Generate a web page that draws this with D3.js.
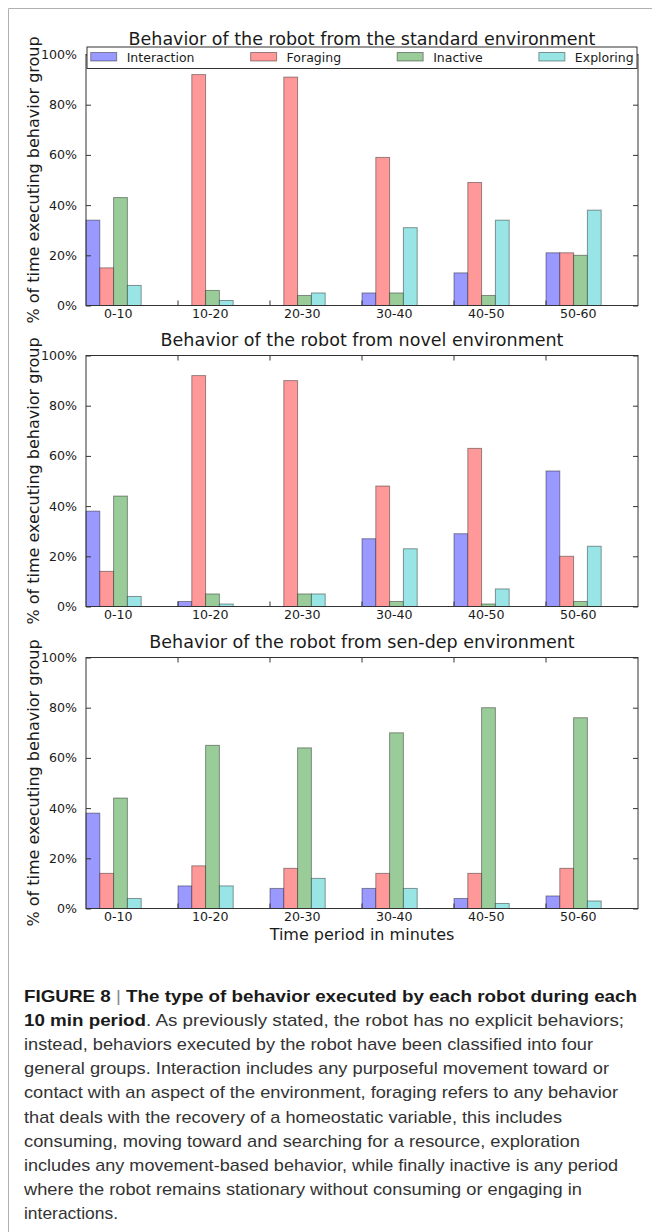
<!DOCTYPE html>
<html>
<head>
<meta charset="utf-8">
<script src="https://cdn.jsdelivr.net/npm/d3@7"></script>
<style>
  html, body { margin: 0; padding: 0; background: #fff; }
  svg { display: block; }
</style>
</head>
<body>
<svg id="chart" width="652" height="1232"></svg>
<script>
// ---------- data ----------
const categories = ["0-10", "10-20", "20-30", "30-40", "40-50", "50-60"];
const seriesNames = ["Interaction", "Foraging", "Inactive", "Exploring"];
const panelTitles = [
  "Behavior of the robot from the standard environment",
  "Behavior of the robot from novel environment",
  "Behavior of the robot from sen-dep environment"
];
const yTickValues = [0, 20, 40, 60, 80, 100];

const standardInteraction = [34, 0, 0, 5, 13, 21];
const standardForaging    = [15, 92, 91, 59, 49, 21];
const standardInactive    = [43, 6, 4, 5, 4, 20];
const standardExploring   = [8, 2, 5, 31, 34, 38];

const novelInteraction = [38, 2, 0, 27, 29, 54];
const novelForaging    = [14, 92, 90, 48, 63, 20];
const novelInactive    = [44, 5, 5, 2, 1, 2];
const novelExploring   = [4, 1, 5, 23, 7, 24];

const sendepInteraction = [38, 9, 8, 8, 4, 5];
const sendepForaging    = [14, 17, 16, 14, 14, 16];
const sendepInactive    = [44, 65, 64, 70, 80, 76];
const sendepExploring   = [4, 9, 12, 8, 2, 3];

const xAxisLabel = "Time period in minutes";
const yAxisLabel = "% of time executing behavior group";

const captionLines = [
  [{t: "FIGURE 8", b: true}, {t: " | ", b: true, sep: true}, {t: "The type of behavior executed by each robot during each", b: true}],
  [{t: "10 min period", b: true}, {t: ". As previously stated, the robot has no explicit behaviors;"}],
  [{t: "instead, behaviors executed by the robot have been classified into four"}],
  [{t: "general groups. Interaction includes any purposeful movement toward or"}],
  [{t: "contact with an aspect of the environment, foraging refers to any behavior"}],
  [{t: "that deals with the recovery of a homeostatic variable, this includes"}],
  [{t: "consuming, moving toward and searching for a resource, exploration"}],
  [{t: "includes any movement-based behavior, while finally inactive is any period"}],
  [{t: "where the robot remains stationary without consuming or engaging in"}],
  [{t: "interactions."}]
];
const captionLineEnds = [637, 624, 593, 609, 618, 562, 580, 618, 582, 118];

// ---------- build ----------
const panels = [
  [standardInteraction, standardForaging, standardInactive, standardExploring],
  [novelInteraction, novelForaging, novelInactive, novelExploring],
  [sendepInteraction, sendepForaging, sendepInactive, sendepExploring]
];

const fills = ["#9999ff", "#ff9999", "#99cc99", "#99e5e5"];
const colour = d3.scaleOrdinal().domain(seriesNames).range(fills);

const svg = d3.select("#chart");
const FONT = "'DejaVu Sans', sans-serif";

// page frame
svg.append("line").attr("x1", 8.5).attr("x2", 652).attr("y1", 8.5).attr("y2", 8.5)
  .attr("stroke", "#b0b0b0").attr("stroke-width", 1);
svg.append("line").attr("x1", 8.5).attr("x2", 8.5).attr("y1", 8.5).attr("y2", 1232)
  .attr("stroke", "#b0b0b0").attr("stroke-width", 1);

const left = 86, right = 638;
const panelTops = [54.5, 355.5, 657.5];
const panelH = 251;

const x = d3.scaleBand().domain(categories).range([left, right]).paddingInner(0).paddingOuter(0);
const barFrac = 0.15;
const sub = d3.scaleBand().domain(seriesNames).range([0, x.bandwidth() * barFrac * 4]).padding(0);

panels.forEach((series, pi) => {
  const top = panelTops[pi];
  const bottom = top + panelH;
  const y = d3.scaleLinear().domain([0, 100]).range([bottom, top]);
  const g = svg.append("g");

  // bars
  seriesNames.forEach((name, si) => {
    g.append("g").selectAll("rect")
      .data(categories.map((c, ci) => ({c, v: series[si][ci]})))
      .join("rect")
      .attr("x", d => x(d.c) + sub(name))
      .attr("width", sub.bandwidth())
      .attr("y", d => y(d.v))
      .attr("height", d => y(0) - y(d.v))
      .attr("fill", colour(name))
      .attr("stroke", "#000")
      .attr("stroke-opacity", 0.4)
      .attr("stroke-width", 1);
  });

  // y axis (left, inward ticks)
  const yAxisL = d3.axisLeft(y).tickValues(yTickValues).tickSize(-5).tickPadding(9)
    .tickFormat(d => d + "%");
  const gyl = g.append("g").attr("transform", `translate(${left},0)`).call(yAxisL);
  gyl.select(".domain").remove();
  gyl.selectAll(".tick line").attr("stroke", "#333");
  gyl.selectAll(".tick text").attr("font-family", FONT).attr("font-size", 12.6).attr("fill", "#1a1a1a");

  // y axis right (ticks only)
  const gyr = g.append("g").attr("transform", `translate(${right},0)`)
    .call(d3.axisRight(y).tickValues(yTickValues).tickSize(-5).tickFormat(""));
  gyr.select(".domain").remove();
  gyr.selectAll(".tick line").attr("stroke", "#333");

  // x axis ticks at group starts (bottom & top), inward
  const starts = categories.slice(1).map(c => x(c));
  g.append("g").selectAll("line").data(starts).join("line")
    .attr("x1", d => d).attr("x2", d => d).attr("y1", bottom).attr("y2", bottom - 5)
    .attr("stroke", "#333");
  g.append("g").selectAll("line").data(starts).join("line")
    .attr("x1", d => d).attr("x2", d => d).attr("y1", top).attr("y2", top + 5)
    .attr("stroke", "#333");

  // x tick labels
  g.append("g").selectAll("text").data(categories).join("text")
    .attr("x", d => x(d) + x.bandwidth() * 0.35)
    .attr("y", bottom + 12.5)
    .attr("text-anchor", "middle")
    .attr("font-family", FONT).attr("font-size", 12.6).attr("fill", "#1a1a1a")
    .text(d => d);

  // frame
  g.append("rect").attr("x", left).attr("y", top).attr("width", right - left).attr("height", panelH)
    .attr("fill", "none").attr("stroke", "#333").attr("stroke-width", 1);

  // title
  g.append("text").attr("x", (left + right) / 2).attr("y", top - 10)
    .attr("text-anchor", "middle").attr("font-family", FONT).attr("font-size", 17.5)
    .attr("fill", "#1a1a1a").text(panelTitles[pi]);

  // y label
  g.append("text")
    .attr("transform", `translate(38.5,${(top + bottom) / 2}) rotate(-90)`)
    .attr("text-anchor", "middle").attr("font-family", FONT).attr("font-size", 16)
    .attr("fill", "#1a1a1a").text(yAxisLabel);

  // legend in first panel
  if (pi === 0) {
    const lg = svg.append("g");
    const lx0 = 87, lx1 = 637, ly0 = 47, ly1 = 68.5;
    lg.append("rect").attr("x", lx0).attr("y", ly0).attr("width", lx1 - lx0).attr("height", ly1 - ly0)
      .attr("fill", "#fff").attr("stroke", "#333").attr("stroke-width", 1);
    const texts = seriesNames.map(n => lg.append("text").attr("font-family", FONT)
      .attr("font-size", 12.5).attr("fill", "#1a1a1a").attr("y", 61.5).text(n));
    const widths = texts.map(t => t.node().getComputedTextLength());
    const patchW = 26, patchGap = 10, padL = 3.7, padR = 3.3;
    const totalEntries = d3.sum(widths) + seriesNames.length * (patchW + patchGap);
    const gap = ((lx1 - padR) - (lx0 + padL) - totalEntries) / (seriesNames.length - 1);
    let cx = lx0 + padL;
    seriesNames.forEach((n, i) => {
      lg.append("rect").attr("x", cx).attr("y", 52.5).attr("width", patchW).attr("height", 8.5)
        .attr("fill", colour(n)).attr("stroke", "#000").attr("stroke-opacity", 0.4);
      texts[i].attr("x", cx + patchW + patchGap);
      cx += patchW + patchGap + widths[i] + gap;
    });
  }
});

// x axis label
svg.append("text").attr("x", (left + right) / 2).attr("y", 939.5)
  .attr("text-anchor", "middle").attr("font-family", FONT).attr("font-size", 16)
  .attr("fill", "#1a1a1a").text(xAxisLabel);

// caption
const capFont = "'Liberation Sans', Arial, sans-serif";
captionLines.forEach((parts, i) => {
  const t = svg.append("text").attr("x", 24).attr("y", 1002 + i * 24.1)
    .attr("font-family", capFont).attr("font-size", 17);
  parts.forEach(p => {
    t.append("tspan")
      .attr("font-weight", p.b && !p.sep ? "bold" : "normal")
      .attr("fill", p.sep ? "#888" : (p.b ? "#1a1a1a" : "#333"))
      .text(p.t);
  });
  t.attr("textLength", captionLineEnds[i] - 24).attr("lengthAdjust", "spacingAndGlyphs");
});
</script>
</body>
</html>
